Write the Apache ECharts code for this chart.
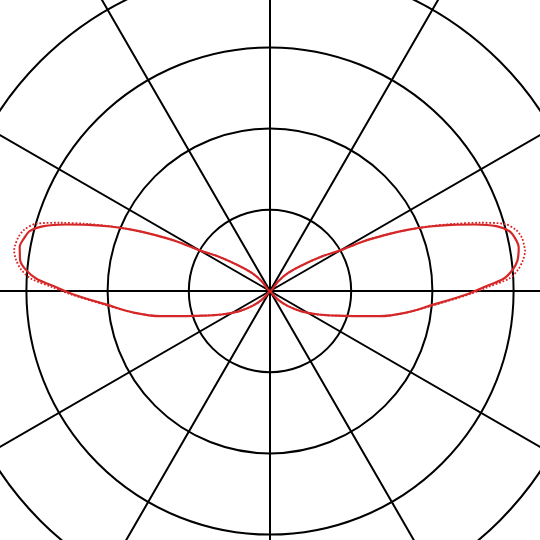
<!DOCTYPE html>
<html>
<head>
<meta charset="utf-8">
<script src="https://cdn.jsdelivr.net/npm/echarts@6/dist/echarts.min.js"></script>
<style>
  html, body { margin: 0; padding: 0; background: #fff; }
  #chart { width: 540px; height: 540px; }
</style>
</head>
<body>
<div id="chart"></div>
<script>
// angles in degrees (0 = east, counter-clockwise), radius in ring units
const rightAngles = [-58, -47, -40, -33, -26, -20, -16, -13, -9, -5, -1, 1, 3, 5, 7, 9, 10, 12, 14, 16, 18, 20, 22, 24, 26, 28, 30, 34, 39, 45, 50, 58];
const rightSolid  = [0, 0.15, 0.29, 0.46, 0.66, 0.89, 1.12, 1.38, 1.70, 2.00, 2.42, 2.63, 2.88, 3.00, 3.07, 3.10, 3.11, 3.09, 3.04, 2.90, 2.65, 2.38, 2.12, 1.85, 1.57, 1.30, 1.00, 0.75, 0.50, 0.31, 0.15, 0];
const rightDotted = [0, 0.15, 0.29, 0.46, 0.66, 0.89, 1.12, 1.38, 1.70, 2.02, 2.45, 2.68, 2.95, 3.07, 3.14, 3.18, 3.18, 3.17, 3.12, 3.00, 2.72, 2.42, 2.13, 1.85, 1.57, 1.30, 1.00, 0.75, 0.50, 0.31, 0.15, 0];

const leftAngles  = [122, 130, 135, 141, 146, 150, 152, 154, 156, 158, 160, 162, 164, 166, 168, 170, 171, 173, 175, 177, 179, 181, 185, 189, 193, 196, 200, 206, 213, 220, 227, 238];
const leftSolid   = [0, 0.15, 0.31, 0.50, 0.75, 1.00, 1.30, 1.57, 1.85, 2.12, 2.38, 2.65, 2.90, 3.05, 3.10, 3.13, 3.12, 3.10, 3.02, 2.88, 2.63, 2.42, 2.00, 1.70, 1.38, 1.12, 0.89, 0.66, 0.46, 0.29, 0.15, 0];
const leftDotted  = [0, 0.15, 0.31, 0.50, 0.75, 1.00, 1.30, 1.57, 1.85, 2.13, 2.42, 2.72, 3.00, 3.12, 3.17, 3.19, 3.19, 3.15, 3.08, 2.95, 2.68, 2.45, 2.02, 1.70, 1.38, 1.12, 0.89, 0.66, 0.46, 0.29, 0.15, 0];

const ringTicks = [0, 1, 2, 3, 4, 5];

const buildData = (angles, radii, angles2, radii2) => {
    let arr = [];
    angles.forEach((a, i) => arr.push([radii[i], a]));
    angles2.forEach((a, i) => arr.push([radii2[i], a]));
    return arr;
};

const gridLine = { show: true, lineStyle: { color: '#000', width: 2 } };

const myChart = echarts.init(document.getElementById('chart'));
myChart.setOption({
    animation: false,
    polar: {
        center: [270, 291],
        radius: 406
    },
    radiusAxis: {
        type: 'value',
        min: ringTicks[0],
        max: ringTicks[ringTicks.length - 1],
        interval: 1,
        axisLine: { show: false },
        axisTick: { show: false },
        axisLabel: { show: false },
        splitLine: gridLine
    },
    angleAxis: {
        type: 'value',
        min: 0,
        max: 360,
        interval: 30,
        startAngle: 0,
        clockwise: false,
        axisLine: { show: false },
        axisTick: { show: false },
        axisLabel: { show: false },
        splitLine: gridLine
    },
    series: [
        {
            type: 'line',
            coordinateSystem: 'polar',
            showSymbol: false,
            smooth: 0.3,
            lineStyle: { color: '#d62728', width: 1.8, type: 'dotted' },
            data: buildData(rightAngles, rightDotted, leftAngles, leftDotted)
        },
        {
            type: 'line',
            coordinateSystem: 'polar',
            showSymbol: false,
            smooth: 0.3,
            lineStyle: { color: '#d62728', width: 2.2 },
            data: buildData(rightAngles, rightSolid, leftAngles, leftSolid)
        }
    ]
});
</script>
</body>
</html>
